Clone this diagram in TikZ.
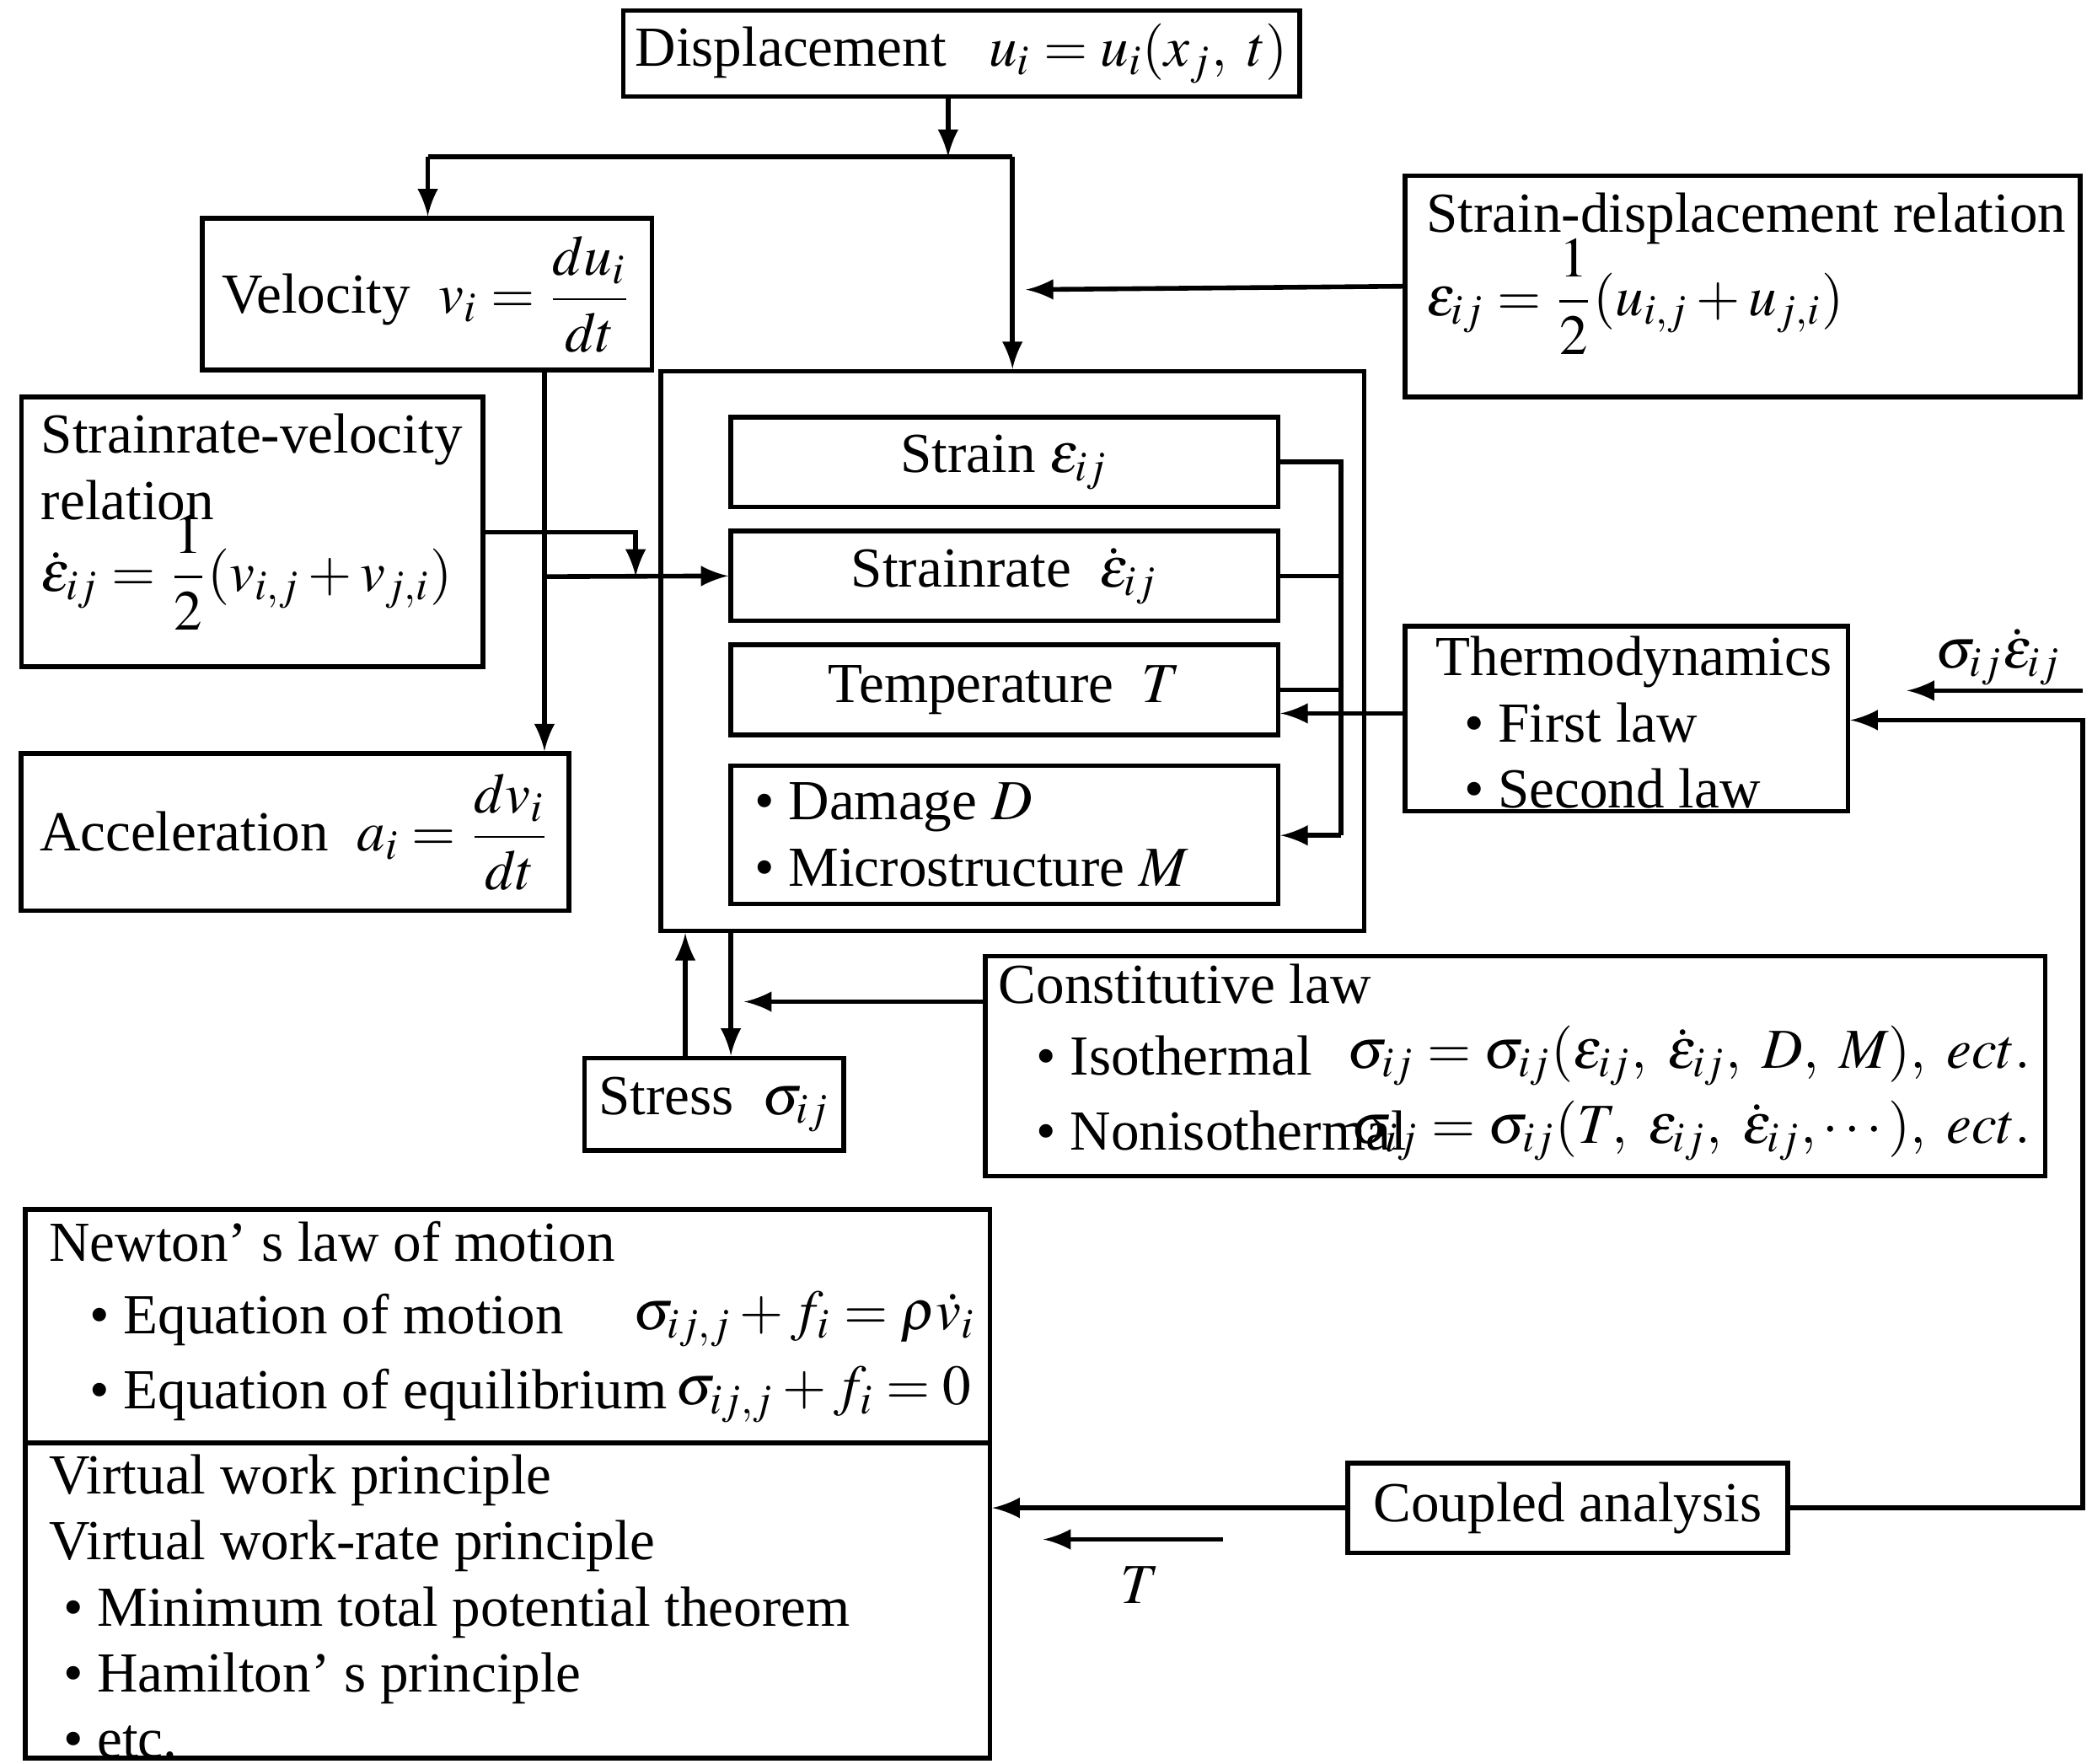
\documentclass[tikz,border=0pt]{standalone}
\usepackage{amsmath}
\usepackage{mathptmx}
\usepackage[no-math]{fontspec}
\setmainfont{Liberation Serif}
\usepackage{tikz}
\tikzset{%
  box/.style  = {shape=rectangle, draw, line width=1pt, inner sep=0pt},%
  txt/.style  = {align=left, inner sep=0pt},%
  link/.style = {line width=1pt},%
  arr/.style  = {link, -latex}%
}
\begin{document}
\begin{tikzpicture}[x=0.01cm,y=-0.01cm,every node/.style={font=\fontsize{12}{14}\selectfont}]
\useasboundingbox (0,0) rectangle (1560,1315);
% boxes
\node[box,minimum width=5.04cm,minimum height=0.64cm] (disp) at (717,40) {Displacement \enspace $u_i=u_i(x_j,\ t)$};
\node[box,minimum width=3.35cm,minimum height=1.13cm] (vel) at (318.5,219.5) {Velocity \ $v_i=\dfrac{du_i}{dt}$};
\node[box,minimum width=5.03cm,minimum height=1.65cm] (sdr) at (1299.5,213.5) {};
\node[txt,anchor=north west] at (1063,143) {Strain-displacement relation\\[-2pt] $\varepsilon_{ij}=\dfrac{1}{2}(u_{i,j}+u_{j,i})$};
\node[box,minimum width=3.44cm,minimum height=2.01cm] (svr) at (188,396.5) {};
\node[txt,anchor=north west] at (30,308) {Strainrate-velocity\\relation\\[-2pt] $\dot\varepsilon_{ij}=\dfrac{1}{2}(v_{i,j}+v_{j,i})$};
\node[box,minimum width=5.24cm,minimum height=4.17cm] (big) at (755,485.5) {};
\node[box,minimum width=4.08cm,minimum height=0.67cm] (strain) at (749,344.5) {Strain $\varepsilon_{ij}$};
\node[box,minimum width=4.08cm,minimum height=0.67cm] (srate) at (749,429.5) {Strainrate \ $\dot\varepsilon_{ij}$};
\node[box,minimum width=4.08cm,minimum height=0.67cm] (temp) at (749,514.5) {Temperature \ $T$};
\node[box,minimum width=4.08cm,minimum height=1.03cm] (dmg) at (749,622.5) {};
\node[txt,anchor=west] at (562,622.5) {\textbullet\ Damage $D$\\ \textbullet\ Microstructure $M$};
\node[box,minimum width=3.30cm,minimum height=1.38cm] (thermo) at (1213,536) {};
\node[txt,anchor=north west] at (1070,474) {Thermodynamics\\ \ \ \textbullet\ First law\\ \ \ \textbullet\ Second law};
\node[box,minimum width=4.08cm,minimum height=1.17cm] (acc) at (220,620.5) {Acceleration \ $a_i=\dfrac{dv_i}{dt}$};
\node[box,minimum width=1.93cm,minimum height=0.69cm] (stress) at (532.5,823.5) {Stress \ $\sigma_{ij}$};
\node[box,minimum width=7.90cm,minimum height=1.64cm] (const) at (1130,795) {};
\node[txt,anchor=north west] at (744,718) {Constitutive law};
\node[txt,anchor=west] at (772,787) {\textbullet\ Isothermal};
\node[txt,anchor=east] at (1515,787) {$\sigma_{ij}=\sigma_{ij}(\varepsilon_{ij},\ \dot\varepsilon_{ij},\ D,\ M),\ ect.$};
\node[txt,anchor=west] at (772,843) {\textbullet\ Nonisothermal};
\node[txt,anchor=east] at (1515,843) {$\sigma_{ij}=\sigma_{ij}(T,\ \varepsilon_{ij},\ \dot\varepsilon_{ij},\cdots),\ ect.$};
\node[box,minimum width=7.19cm,minimum height=1.74cm] (newton) at (378.5,989) {};
\node[txt,anchor=north west] at (36,910) {Newton' s law of motion};
\node[txt,anchor=west] at (66,984) {\textbullet\ Equation of motion};
\node[txt,anchor=east] at (728,984) {$\sigma_{ij,j}+f_i=\rho\dot v_i$};
\node[txt,anchor=west] at (66,1040) {\textbullet\ Equation of equilibrium};
\node[txt,anchor=east] at (725,1040) {$\sigma_{ij,j}+f_i=0$};
\node[box,minimum width=7.19cm,minimum height=2.35cm] (virt) at (378.5,1193.5) {};
\node[txt,anchor=north west] at (36,1084) {Virtual work principle\\ Virtual work-rate principle\\ \ \textbullet\ Minimum total potential theorem\\ \ \textbullet\ Hamilton' s principle\\ \ \textbullet\ etc.};
\node[box,minimum width=3.28cm,minimum height=0.67cm] (coupled) at (1169,1124.5) {Coupled analysis};
\node (pw) at (1490,490) {$\sigma_{ij}\dot\varepsilon_{ij}$};
\node (tlab) at (850,1182) {$T$};
% connectors
\coordinate (split) at (707,117);
\draw[arr] (disp.south -| split) -- (split);
\draw[arr] (319,117) -- (vel.north -| 319,0);
\draw[link] (319,117) -- (755,117);
\draw[arr] (755,117) -- (big.north);
\draw[arr] (sdr.west) -- (765,216);
\draw[arr] (vel.south -| 406,0) -- (acc.north -| 406,0);
\draw[arr] (svr.east |- 0,397) -- (474,397) -- (474,430);
\draw[arr] (406,430) -- (srate.west);
\draw[link] (strain.east) -- (1000,344.5) -- (1000,623);
\draw[link] (srate.east) -- (1000,429.5);
\draw[link] (temp.east) -- (1000,514.5);
\draw[arr] (1000,623) -- (dmg.east |- 0,623);
\draw[arr] (thermo.west |- 0,532) -- (temp.east |- 0,532);
\draw[arr] (stress.north -| 511,0) -- (big.south -| 511,0);
\draw[arr] (big.south -| 545,0) -- (stress.north -| 545,0);
\draw[arr] (const.west |- 0,747) -- (555,747);
\draw[arr] (1553,515) -- (1422,515);
\draw[arr] (coupled.east) -- (1553,1124.5) -- (1553,537) -- (thermo.east |- 0,537);
\draw[arr] (coupled.west) -- (virt.east |- coupled.west);
\draw[arr] (912,1148) -- (778,1148);
\end{tikzpicture}
\end{document}
